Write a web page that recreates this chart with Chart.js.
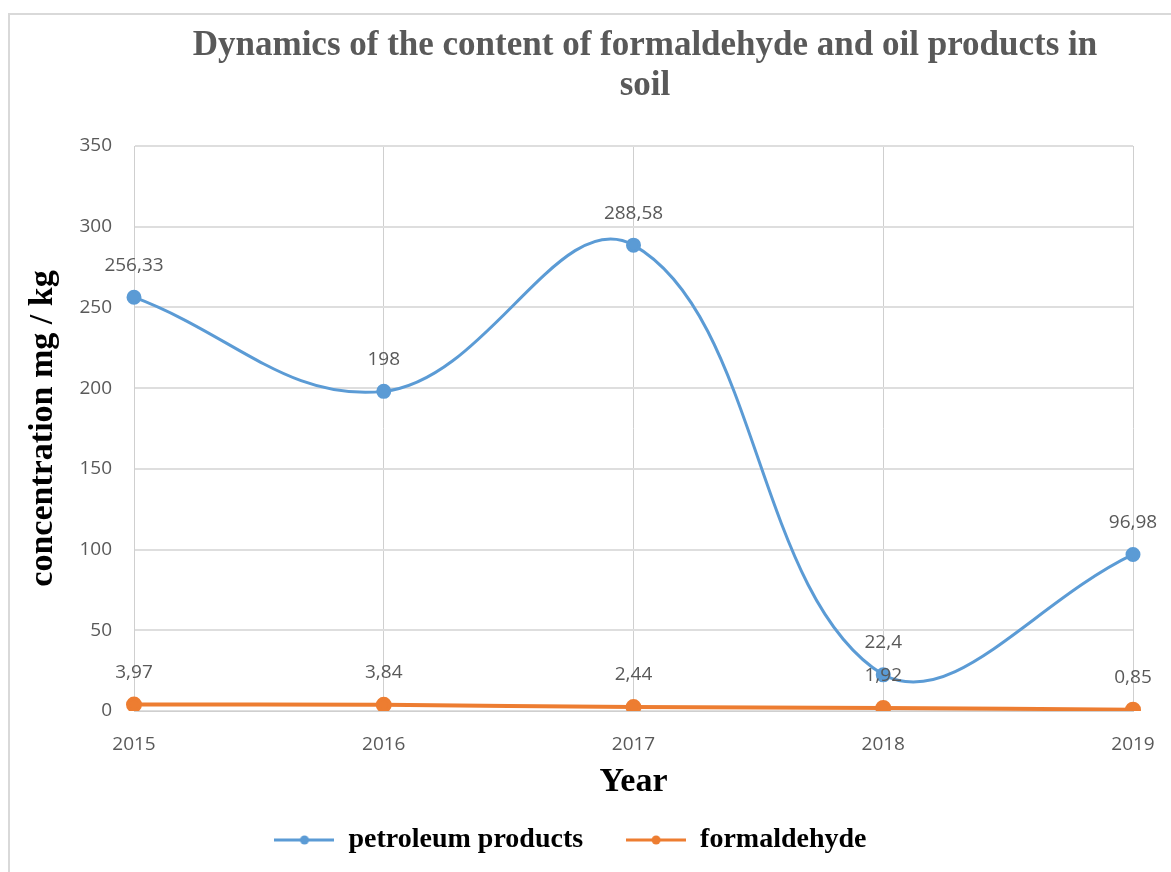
<!DOCTYPE html>
<html>
<head>
<meta charset="utf-8">
<script src="https://cdn.jsdelivr.net/npm/chart.js@4/dist/chart.umd.min.js"></script>
<style>
  html, body { margin: 0; padding: 0; background: #ffffff; }
  #wrap { width: 1171px; height: 872px; }
</style>
</head>
<body>
<div id="wrap"><canvas id="chart" width="1171" height="872"></canvas></div>
<script>
// Years on the category axis
const years = ['2015', '2016', '2017', '2018', '2019'];
// Concentrations in soil, mg/kg
const petroleum = [256.33, 198, 288.58, 22.4, 96.98];
const formaldehyde = [3.97, 3.84, 2.44, 1.92, 0.85];
// Value axis range
const yMin = 0;
const yMax = 350;
const yStep = 50;
const titleLines = ['Dynamics of the content of formaldehyde and oil products in', 'soil'];

const BLUE = '#5b9bd5';
const ORANGE = '#ed7d31';
const GREY_TEXT = '#595959';

// Legend marker: short line with a dot in the middle
function makeMarker(color) {
  const c = document.createElement('canvas');
  c.width = 60; c.height = 14;
  const g = c.getContext('2d');
  g.strokeStyle = color; g.lineWidth = 3;
  g.beginPath(); g.moveTo(0, 7); g.lineTo(60, 7); g.stroke();
  g.fillStyle = color;
  g.beginPath(); g.arc(30, 7, 4.5, 0, Math.PI * 2); g.fill();
  return c;
}
const markers = [makeMarker(BLUE), makeMarker(ORANGE)];

// Outer frame and white background
const framePlugin = {
  id: 'frame',
  beforeDraw(chart) {
    const ctx = chart.ctx;
    ctx.save();
    ctx.fillStyle = '#ffffff';
    ctx.fillRect(0, 0, chart.width, chart.height);
    ctx.strokeStyle = '#d9d9d9';
    ctx.lineWidth = 2;
    ctx.strokeRect(9, 14, chart.width + 10, chart.height + 10);
    ctx.restore();
  }
};

// Two-line chart heading
const headingPlugin = {
  id: 'heading',
  afterDraw(chart) {
    const ctx = chart.ctx;
    ctx.save();
    ctx.font = 'bold 35px "Liberation Serif"';
    ctx.fillStyle = GREY_TEXT;
    ctx.textAlign = 'center';
    ctx.textBaseline = 'middle';
    titleLines.forEach((t, i) => ctx.fillText(t, 645, 46 + i * 40));
    ctx.restore();
  }
};

// Value labels above every point, with decimal comma
const valueLabelPlugin = {
  id: 'valueLabels',
  afterDatasetsDraw(chart) {
    const ctx = chart.ctx;
    ctx.save();
    ctx.font = '19px "Open Sans"';
    ctx.fillStyle = GREY_TEXT;
    ctx.textAlign = 'center';
    ctx.textBaseline = 'middle';
    chart.data.datasets.forEach((ds, di) => {
      const meta = chart.getDatasetMeta(di);
      meta.data.forEach((pt, i) => {
        const txt = String(ds.data[i]).replace('.', ',');
        ctx.fillText(txt, pt.x, pt.y - 32);
      });
    });
    ctx.restore();
  }
};

new Chart(document.getElementById('chart'), {
  type: 'line',
  data: {
    labels: years,
    datasets: [
      {
        label: 'petroleum products',
        data: petroleum,
        borderColor: BLUE,
        backgroundColor: BLUE,
        borderWidth: 3,
        tension: 0.4,
        pointRadius: 6,
        pointStyle: 'circle',
        pointBackgroundColor: BLUE,
        pointBorderColor: BLUE
      },
      {
        label: 'formaldehyde',
        data: formaldehyde,
        borderColor: ORANGE,
        backgroundColor: ORANGE,
        borderWidth: 4,
        tension: 0.4,
        pointRadius: 6,
        pointStyle: 'circle',
        pointBackgroundColor: ORANGE,
        pointBorderColor: ORANGE
      }
    ]
  },
  options: {
    responsive: false,
    animation: false,
    layout: { padding: { top: 146, left: 8, right: 38, bottom: 8 } },
    plugins: {
      title: { display: false },
      tooltip: { enabled: false },
      legend: {
        display: true,
        position: 'bottom',
        labels: {
          usePointStyle: true,
          pointStyleWidth: 60,
          boxHeight: 14,
          padding: 43,
          color: '#000000',
          font: { family: 'Liberation Serif', weight: 'bold', size: 28 },
          generateLabels(chart) {
            const items = Chart.defaults.plugins.legend.labels.generateLabels(chart);
            items.forEach((it, i) => { it.pointStyle = markers[i]; });
            return items;
          }
        }
      }
    },
    scales: {
      x: {
        type: 'category',
        offset: false,
        grid: { display: true, color: '#cfcfcf', lineWidth: 1, drawTicks: false },
        border: { display: true, color: '#cfcfcf', width: 1 },
        ticks: { color: GREY_TEXT, font: { family: 'Open Sans', size: 19 }, padding: 22, maxRotation: 0 },
        title: {
          display: true,
          text: 'Year',
          color: '#000000',
          font: { family: 'Liberation Serif', weight: 'bold', size: 34 },
          padding: { top: 0, bottom: -20 }
        },
        afterFit(scale) {
          scale.height = 72;
          scale.paddingLeft = 0;
          scale.paddingRight = 0;
        }
      },
      y: {
        min: yMin,
        max: yMax,
        grid: { display: true, color: '#dedede', lineWidth: 2, drawTicks: false },
        border: { display: true, color: '#cfcfcf', width: 1 },
        ticks: { stepSize: yStep, color: GREY_TEXT, font: { family: 'Open Sans', size: 19 }, padding: 22 },
        title: {
          display: true,
          text: 'concentration mg / kg',
          color: '#000000',
          font: { family: 'Liberation Serif', weight: 'bold', size: 34 },
          padding: { top: 15, bottom: 0 }
        },
        afterFit(scale) { scale.width = 126; }
      }
    }
  },
  plugins: [framePlugin, headingPlugin, valueLabelPlugin]
});
</script>
</body>
</html>
